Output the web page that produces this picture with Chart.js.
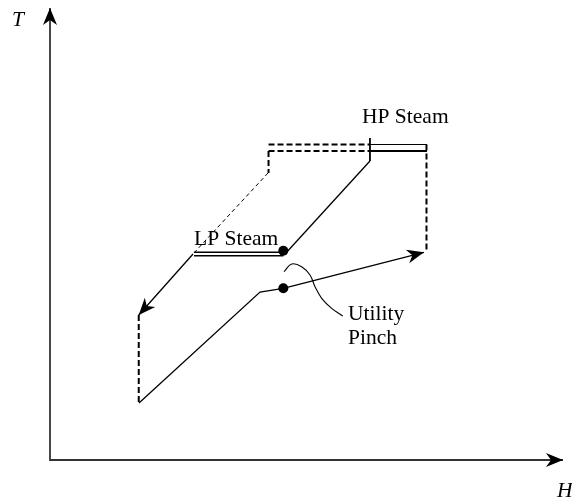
<!DOCTYPE html>
<html>
<head>
<meta charset="utf-8">
<script src="https://cdn.jsdelivr.net/npm/chart.js@4"></script>
<style>
    body { margin: 0; background: #fff; }
    canvas { display: block; }
</style>
</head>
<body>
<canvas id="tdChart" width="572" height="503"></canvas>
<script>
// =============================================
// SITE UTILITY T-H DIAGRAM (enthalpy H vs temperature T, 0-100 units)
// =============================================

// Axes
const axisH = [0, 0, 100];
const axisT = [100, 0, 0];

// Site sink profile (lower curve, ends with arrow)
const sinkH = [17.35, 40.94, 45.48, 72.9];
const sinkT = [12.61, 37.17, 37.99, 45.95];

// Source profile from LP steam down to the arrow
const srcLowH = [27.88, 17.3];
const srcLowT = [45.58, 32.08];

// Thin dashed continuation above LP steam
const srcDashH = [42.5, 27.88];
const srcDashT = [63.5, 45.58];

// Solid diagonal between LP and HP steam
const midH = [45.81, 62.37];
const midT = [45.58, 66.15];

// Dashed verticals
const leftDropH = [17.3, 17.3];
const leftDropT = [32.08, 12.61];
const shortDropH = [42.6, 42.6];
const shortDropT = [68.36, 63.5];
const rightDropH = [73.39, 73.39];
const rightDropT = [69.8, 45.95];

// Steam levels (double lines)
const hpSteamH = [62.37, 73.49];
const hpDashH = [42.6, 62.37];
const hpLevelsT = [69.8, 68.36];
const lpSteamH = [28.07, 45.5];
const lpLevelsT = [45.95, 45.2];

// Crossing mark on the HP level
const markH = [62.37, 62.37];
const markT = [71.24, 66.15];

// Pinch dots
const dotH = [45.48, 45.48];
const dotT = [46.3, 37.99];

// Leader curve to "Utility Pinch"
const leaderH = [45.61, 47.12, 49.06, 50.68, 51.66, 52.96, 54.91, 57.06];
const leaderT = [41.66, 43.36, 42.77, 40.93, 38.34, 35.77, 33.56, 31.86];

// Text labels
const labelText = ['HP Steam', 'LP Steam', 'Utility', 'Pinch', 'T', 'H'];
const labelH = [60.82, 28.07, 58.09, 58.09, -7.41, 98.83];
const labelT = [74.56, 47.57, 30.97, 25.66, 96.02, -8.19];
const labelItalic = [false, false, false, false, true, true];

function pts(hs, ts) {
    return hs.map((h, i) => ({ x: h, y: ts[i] }));
}

function line(hs, ts, opts) {
    return Object.assign({
        data: pts(hs, ts),
        showLine: true,
        borderColor: '#000',
        borderWidth: 1.3,
        pointRadius: 0,
        fill: false,
        clip: false
    }, opts || {});
}

const datasets = [
    line(axisH, axisT, { borderColor: '#333', borderWidth: 1.8, arrowStart: true, arrowEnd: true }),
    line(sinkH, sinkT, { arrowEnd: true }),
    line(srcLowH, srcLowT, { arrowEnd: true }),
    line(srcDashH, srcDashT, { borderWidth: 1, borderDash: [4, 3] }),
    line(midH, midT),
    line(leftDropH, leftDropT, { borderWidth: 2, borderDash: [6, 3] }),
    line(shortDropH, shortDropT, { borderWidth: 2, borderDash: [6, 3] }),
    line(rightDropH, rightDropT, { borderWidth: 2, borderDash: [6, 3] }),
    line(hpSteamH, [hpLevelsT[0], hpLevelsT[0]], { borderWidth: 1.2 }),
    line(hpSteamH, [hpLevelsT[1], hpLevelsT[1]], { borderWidth: 2.2 }),
    line(hpDashH, [hpLevelsT[0], hpLevelsT[0]], { borderWidth: 2, borderDash: [6, 3] }),
    line(hpDashH, [hpLevelsT[1], hpLevelsT[1]], { borderWidth: 2, borderDash: [6, 3] }),
    line(lpSteamH, [lpLevelsT[0], lpLevelsT[0]], { borderWidth: 1.6 }),
    line(lpSteamH, [lpLevelsT[1], lpLevelsT[1]], { borderWidth: 1.6 }),
    line(markH, markT, { borderWidth: 1.8 }),
    line(leaderH, leaderT, { borderWidth: 1.1, tension: 0.4 }),
    {
        data: pts(dotH, dotT),
        showLine: false,
        pointRadius: 5,
        pointBackgroundColor: '#000',
        pointBorderWidth: 0,
        clip: false
    }
];

// Draw filled, notched arrowheads at the ends of flagged lines
function arrowHead(ctx, tipX, tipY, fromX, fromY) {
    const ang = Math.atan2(tipY - fromY, tipX - fromX);
    const len = 17, half = 7, notch = 12;
    ctx.save();
    ctx.translate(tipX, tipY);
    ctx.rotate(ang);
    ctx.fillStyle = '#000';
    ctx.beginPath();
    ctx.moveTo(0, 0);
    ctx.lineTo(-len, -half);
    ctx.lineTo(-notch, 0);
    ctx.lineTo(-len, half);
    ctx.closePath();
    ctx.fill();
    ctx.restore();
}

const arrowPlugin = {
    id: 'arrows',
    afterDatasetsDraw(chart) {
        const ctx = chart.ctx;
        chart.data.datasets.forEach((ds, i) => {
            const els = chart.getDatasetMeta(i).data;
            if (ds.arrowEnd) {
                const a = els[els.length - 1], b = els[els.length - 2];
                arrowHead(ctx, a.x, a.y, b.x, b.y);
            }
            if (ds.arrowStart) {
                arrowHead(ctx, els[0].x, els[0].y, els[1].x, els[1].y);
            }
        });
    }
};

const labelPlugin = {
    id: 'labels',
    afterDraw(chart) {
        const ctx = chart.ctx;
        const xs = chart.scales.x, ys = chart.scales.y;
        ctx.save();
        ctx.fillStyle = '#000';
        ctx.textAlign = 'left';
        ctx.textBaseline = 'alphabetic';
        labelText.forEach((t, i) => {
            ctx.font = (labelItalic[i] ? 'italic ' : '') + '21.5px "Liberation Serif", "Times New Roman", serif';
            ctx.fillText(t, xs.getPixelForValue(labelH[i]), ys.getPixelForValue(labelT[i]));
        });
        ctx.restore();
    }
};

new Chart(document.getElementById('tdChart').getContext('2d'), {
    type: 'scatter',
    data: { datasets },
    options: {
        responsive: false,
        animation: false,
        layout: { padding: { left: 50, right: 9, top: 8, bottom: 43 } },
        plugins: { legend: { display: false }, tooltip: { enabled: false } },
        scales: {
            x: { type: 'linear', min: 0, max: 100, display: false },
            y: { type: 'linear', min: 0, max: 100, display: false }
        }
    },
    plugins: [arrowPlugin, labelPlugin]
});
</script>
</body>
</html>
